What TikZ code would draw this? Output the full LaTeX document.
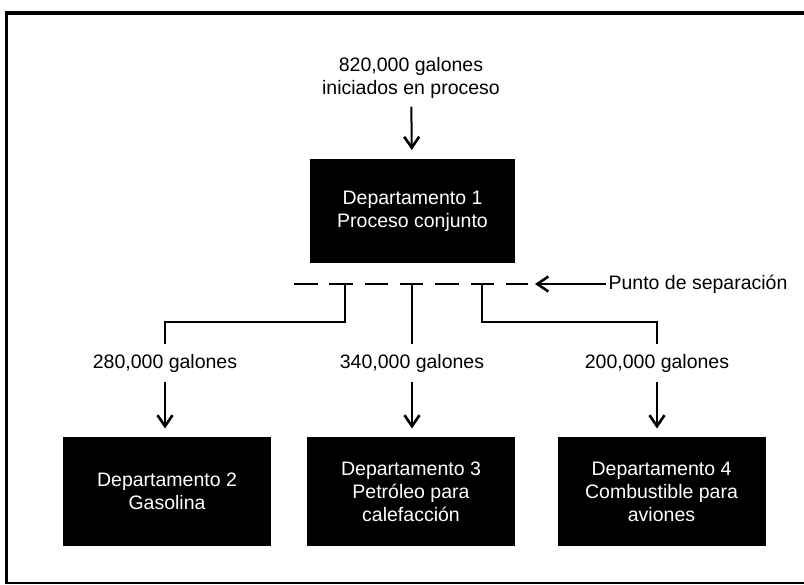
\documentclass[tikz,border=0pt]{standalone}
\usepackage{fontspec}
\setmainfont{Liberation Sans}
\usetikzlibrary{arrows.meta}

\begin{document}
\begin{tikzpicture}[x=1pt, y=-1pt, line width=2pt,
  >={Straight Barb[length=11pt,width=15pt,line width=2.6pt]},
  font=\fontsize{19.5}{23}\selectfont,
  dept/.style={fill=black, text=white, align=center, minimum width=208pt, minimum height=108pt, outer sep=9pt},
  qty/.style={inner xsep=2pt, inner ysep=9pt}]
  \useasboundingbox (0,0) rectangle (804,585);
  % frame
  \draw[line width=4pt] (806,13) -- (6,13);
  \draw[line width=3pt] (6,11) -- (6,584);
  \draw[line width=1.5pt] (6,583) -- (806,583);

  % joint process
  \node[align=center, inner ysep=7pt] (feed) at (411,78) {820,000 galones\\iniciados en proceso};
  \node[dept, minimum width=205pt, minimum height=104pt] (d1) at (412.5,211) {Departamento 1\\Proceso conjunto};
  \draw[->] (feed) -- (d1);

  % split-off point
  \coordinate (sl) at (294,284);
  \coordinate (sr) at (528,284);
  \draw[line width=2.5pt, dash pattern=on 23.5pt off 11.8pt] (sl) -- (sr);
  \node[inner sep=2pt] (sep) at (698,284) {Punto de separación};
  \coordinate (septip) at (535,284);
  \draw[->] (sep) -- (septip);

  % branches
  \node[qty] (q2) at (165,363) {280,000 galones};
  \node[qty] (q3) at (412,363) {340,000 galones};
  \node[qty] (q4) at (657,363) {200,000 galones};
  \coordinate (s2) at (345,284);
  \coordinate (s3) at (412,284);
  \coordinate (s4) at (482,284);
  \draw (s2) -- ++(0,38) -| (q2);
  \draw (s3) -- (q3);
  \draw (s4) -- ++(0,38) -| (q4);

  % separate products
  \node[dept] (d2) at (167,491.5) {Departamento 2\\Gasolina};
  \node[dept] (d3) at (411,491.5) {Departamento 3\\Petróleo para\\calefacción};
  \node[dept] (d4) at (661.5,491.5) {Departamento 4\\Combustible para\\aviones};
  \foreach \n in {2,3,4} \draw[->] (q\n) -- (q\n |- d\n.north);
\end{tikzpicture}
\end{document}
